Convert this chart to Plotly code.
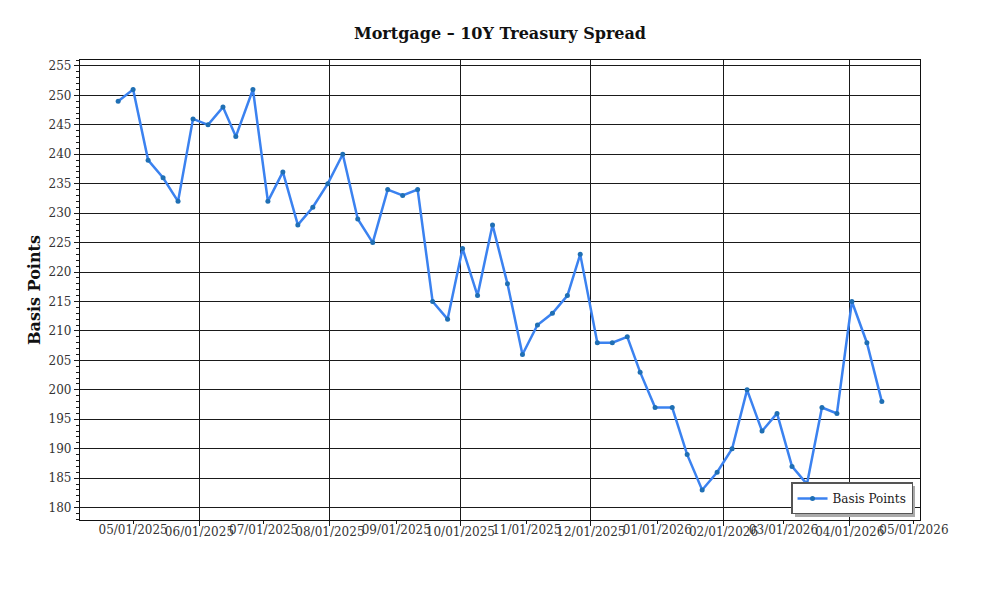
import plotly.graph_objects as go

dates = [
    "2025-04-24", "2025-05-01", "2025-05-08", "2025-05-15", "2025-05-22", "2025-05-29",
    "2025-06-05", "2025-06-12", "2025-06-18", "2025-06-26", "2025-07-03", "2025-07-10",
    "2025-07-17", "2025-07-24", "2025-07-31", "2025-08-07", "2025-08-14", "2025-08-21",
    "2025-08-28", "2025-09-04", "2025-09-11", "2025-09-18", "2025-09-25", "2025-10-02",
    "2025-10-09", "2025-10-16", "2025-10-23", "2025-10-30", "2025-11-06", "2025-11-13",
    "2025-11-20", "2025-11-26", "2025-12-04", "2025-12-11", "2025-12-18", "2025-12-24",
    "2025-12-31", "2026-01-08", "2026-01-15", "2026-01-22", "2026-01-29", "2026-02-05",
    "2026-02-12", "2026-02-19", "2026-02-26", "2026-03-05", "2026-03-12", "2026-03-19",
    "2026-03-26", "2026-04-02", "2026-04-09", "2026-04-16",
]
spread_bp = [
    249, 251, 239, 236, 232, 246, 245, 248, 243, 251, 232, 237,
    228, 231, 235, 240, 229, 225, 234, 233, 234, 215, 212, 224,
    216, 228, 218, 206, 211, 213, 216, 223, 208, 208, 209, 203,
    197, 197, 189, 183, 186, 190, 200, 193, 196, 187, 184, 197,
    196, 215, 208, 198,
]

major_ticks = ["2025-06-01", "2025-08-01", "2025-10-01", "2025-12-01", "2026-02-01", "2026-04-01"]
major_labels = ["06/01/2025", "08/01/2025", "10/01/2025", "12/01/2025", "02/01/2026", "04/01/2026"]
minor_ticks = ["2025-05-01", "2025-07-01", "2025-09-01", "2025-11-01", "2026-01-01", "2026-03-01", "2026-05-01"]
minor_labels = ["05/01/2025", "07/01/2025", "09/01/2025", "11/01/2025", "01/01/2026", "03/01/2026", "05/01/2026"]
y_ticks = list(range(180, 256, 5))

x_range = ["2025-04-06 04:00", "2026-05-03 20:00"]
y_range = [177.9, 256.0]

SERIF = "DejaVu Serif"

fig = go.Figure()
fig.add_trace(go.Scatter(
    x=dates, y=spread_bp, mode="lines+markers", name="Basis Points",
    line=dict(color="#3b82f0", width=2.5),
    marker=dict(color="#1f6fb4", size=5),
))
# invisible carrier so the secondary (staggered) date axis is drawn
fig.add_trace(go.Scatter(
    x=dates, y=spread_bp, xaxis="x2", mode="lines", opacity=0,
    showlegend=False, hoverinfo="skip", line=dict(width=0),
))

fig.update_layout(
    width=1000, height=600,
    margin=dict(l=80, r=80, t=60, b=80),
    paper_bgcolor="white", plot_bgcolor="white",
    font=dict(family=SERIF, size=12, color="#333333"),
    title=dict(text="<b>Mortgage – 10Y Treasury Spread</b>", x=0.5, xanchor="center",
               y=0.945, yanchor="middle", font=dict(family=SERIF, size=16, color="#111111")),
    xaxis=dict(
        type="date", range=x_range,
        tickmode="array", tickvals=major_ticks, ticktext=major_labels,
        showgrid=True, gridcolor="#1a1a1a", gridwidth=1.3,
        ticks="outside", ticklen=5, tickcolor="#1a1a1a", tickwidth=1.2,
        showline=True, linecolor="#111111", linewidth=1.3, mirror=True,
        zeroline=False, ticklabelstandoff=-5,
        tickfont=dict(family=SERIF, size=12, color="#333333"),
    ),
    xaxis2=dict(
        type="date", range=x_range, overlaying="x", side="bottom", anchor="y",
        tickmode="array", tickvals=minor_ticks, ticktext=minor_labels,
        showgrid=False, ticks="outside", ticklen=3, tickcolor="#1a1a1a", tickwidth=1.2,
        showline=False, zeroline=False, ticklabelstandoff=-4,
        tickfont=dict(family=SERIF, size=12, color="#333333"),
    ),
    yaxis=dict(
        range=y_range, tickmode="array", tickvals=y_ticks,
        showgrid=True, gridcolor="#1a1a1a", gridwidth=1.3,
        ticks="outside", ticklen=5, tickcolor="#1a1a1a", tickwidth=1.2,
        minor=dict(dtick=1, tick0=180, ticks="outside", ticklen=3, tickcolor="#1a1a1a", showgrid=False),
        showline=True, linecolor="#111111", linewidth=1.3, mirror=True,
        zeroline=False,
        title=dict(text="<b>Basis Points</b>", font=dict(family=SERIF, size=16, color="#111111"), standoff=3),
        tickfont=dict(family=SERIF, size=12, color="#333333"),
    ),
    legend=dict(
        x=0.9917, xanchor="right", y=0.012, yanchor="bottom",
        bgcolor="white", bordercolor="#555555", borderwidth=1.5,
        font=dict(family=SERIF, size=12, color="#222222"),
    ),
    showlegend=True,
)

# legend drop shadow
fig.add_shape(type="rect", xref="paper", yref="paper",
              x0=(795 - 80) / 840, x1=(915 - 80) / 840,
              y0=(520 - 517) / 460, y1=(520 - 486) / 460,
              fillcolor="#aaaaaa", line=dict(width=0), layer="above")

fig.write_html("out.html")
